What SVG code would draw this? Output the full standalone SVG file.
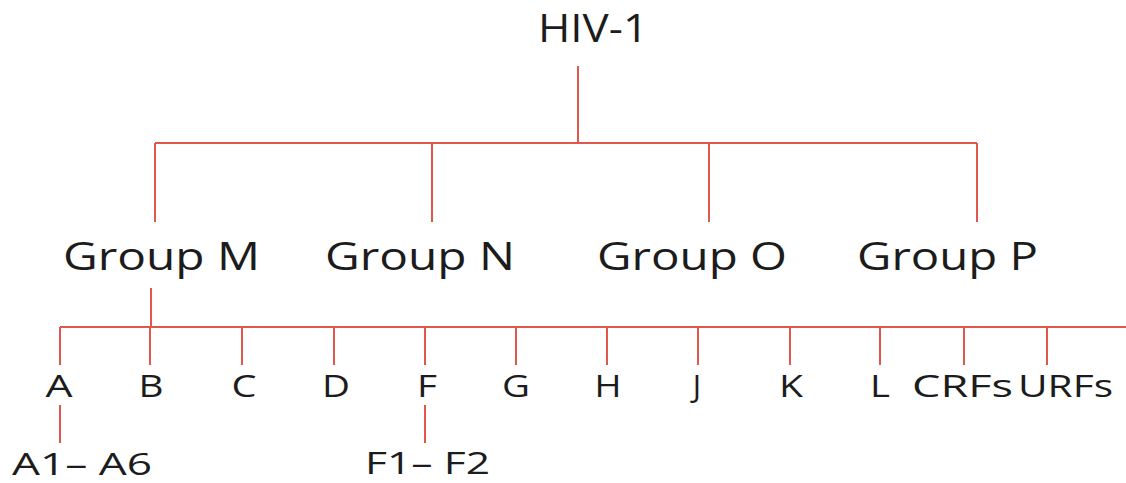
<svg xmlns="http://www.w3.org/2000/svg" width="1126" height="483" viewBox="0 0 1126 483">
  <style>
    .lbl { font-family: "Open Sans", "Liberation Sans", sans-serif; fill: #1c1c1c; }
    .root { font-size: 38px; }
    .grp { font-size: 38px; }
    .leaf { font-size: 31px; text-anchor: middle; }
    .sub { font-size: 31px; }
    .wire { stroke: #e2574c; stroke-width: 2; fill: none; }
  </style>
  <rect width="1126" height="483" fill="#ffffff"/>

  <g id="connectors">
    <!-- HIV-1 to groups -->
    <path class="wire" d="M578 66 V143 M155 143 H977 M155 143 V222 M432 143 V222 M709 143 V222 M977 143 V222"/>
    <!-- Group M to subtypes -->
    <path class="wire" d="M151 288 V327 M60 327 H1126"/>
    <path class="wire" d="M60 327 V365 M150 327 V365 M242 327 V365 M334 327 V365 M425 327 V365 M516 327 V365 M607 327 V365 M698 327 V365 M790 327 V365 M880 327 V365 M964 327 V365 M1047 327 V365"/>
    <!-- sub-subtypes -->
    <path class="wire" d="M60 405 V443 M425 405 V443"/>
  </g>

  <g id="hiv1"><text class="lbl root" x="538" y="42" textLength="110" lengthAdjust="spacingAndGlyphs">HIV-1</text></g>

  <g id="group-m"><text class="lbl grp" x="63" y="270" textLength="197" lengthAdjust="spacingAndGlyphs">Group M</text></g>
  <g id="group-n"><text class="lbl grp" x="325" y="270" textLength="190" lengthAdjust="spacingAndGlyphs">Group N</text></g>
  <g id="group-o"><text class="lbl grp" x="597" y="270" textLength="190" lengthAdjust="spacingAndGlyphs">Group O</text></g>
  <g id="group-p"><text class="lbl grp" x="857" y="270" textLength="181" lengthAdjust="spacingAndGlyphs">Group P</text></g>

  <g id="leaf-a"><text class="lbl leaf" x="59" y="397" textLength="27" lengthAdjust="spacingAndGlyphs">A</text></g>
  <g id="leaf-b"><text class="lbl leaf" x="151" y="397" textLength="25" lengthAdjust="spacingAndGlyphs">B</text></g>
  <g id="leaf-c"><text class="lbl leaf" x="244" y="397" textLength="25" lengthAdjust="spacingAndGlyphs">C</text></g>
  <g id="leaf-d"><text class="lbl leaf" x="336" y="397" textLength="28" lengthAdjust="spacingAndGlyphs">D</text></g>
  <g id="leaf-f"><text class="lbl leaf" x="427" y="397" textLength="20" lengthAdjust="spacingAndGlyphs">F</text></g>
  <g id="leaf-g"><text class="lbl leaf" x="516" y="397" textLength="28" lengthAdjust="spacingAndGlyphs">G</text></g>
  <g id="leaf-h"><text class="lbl leaf" x="608" y="397" textLength="27" lengthAdjust="spacingAndGlyphs">H</text></g>
  <g id="leaf-j"><text class="lbl leaf" x="697" y="397">J</text></g>
  <g id="leaf-k"><text class="lbl leaf" x="791" y="397" textLength="24" lengthAdjust="spacingAndGlyphs">K</text></g>
  <g id="leaf-l"><text class="lbl leaf" x="880" y="397" textLength="20" lengthAdjust="spacingAndGlyphs">L</text></g>
  <g id="leaf-crfs"><text class="lbl" style="font-size:31px" x="912" y="397" textLength="101" lengthAdjust="spacingAndGlyphs">CRFs</text></g>
  <g id="leaf-urfs"><text class="lbl" style="font-size:31px" x="1018" y="397" textLength="95" lengthAdjust="spacingAndGlyphs">URFs</text></g>

  <g id="sub-a"><text class="lbl sub" x="12" y="475" textLength="140" lengthAdjust="spacingAndGlyphs">A1– A6</text></g>
  <g id="sub-f"><text class="lbl sub" x="365" y="474" textLength="125" lengthAdjust="spacingAndGlyphs">F1– F2</text></g>
</svg>
